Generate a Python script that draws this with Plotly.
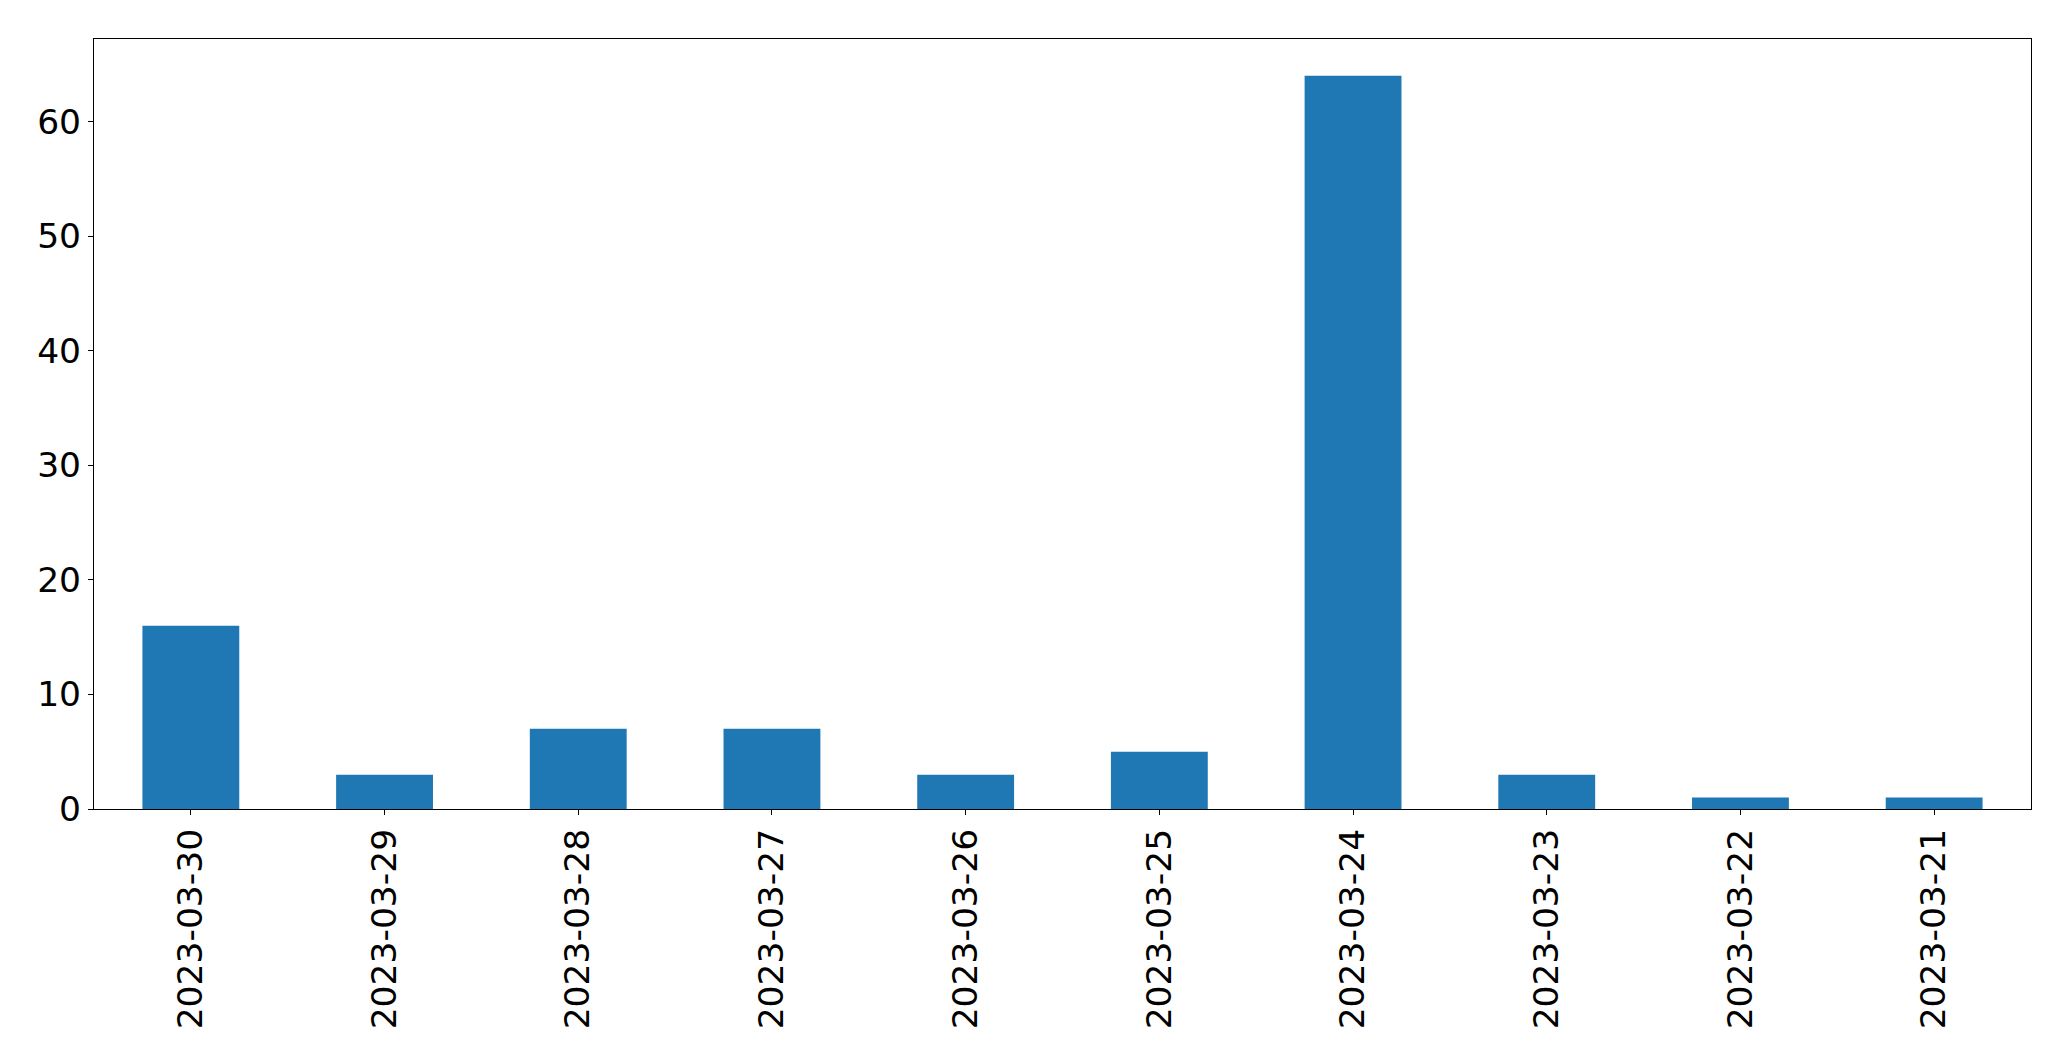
import plotly.graph_objects as go

dates = ["2023-03-30", "2023-03-29", "2023-03-28", "2023-03-27", "2023-03-26",
         "2023-03-25", "2023-03-24", "2023-03-23", "2023-03-22", "2023-03-21"]
counts = [16, 3, 7, 7, 3, 5, 64, 3, 1, 1]
y_ticks = [0, 10, 20, 30, 40, 50, 60]

fig = go.Figure(go.Bar(x=dates, y=counts, marker=dict(color="#1f77b4", line=dict(width=0)), width=0.5))

axis_common = dict(showline=True, mirror=True, linecolor="black", linewidth=1.1,
                   ticks="outside", ticklen=5, tickwidth=1.1, tickcolor="black",
                   showgrid=False, zeroline=False,
                   tickfont=dict(family="DejaVu Sans", size=34.5, color="black"))

fig.update_layout(
    width=2071, height=1061,
    margin=dict(l=94, r=40, t=39, b=252),
    paper_bgcolor="white", plot_bgcolor="white",
    showlegend=False,
    xaxis=dict(type="category", range=[-0.5, 9.5], tickangle=-90, **axis_common),
    yaxis=dict(range=[0, 67.2], tickvals=y_ticks, **axis_common),
)

fig.write_html("out.html")
